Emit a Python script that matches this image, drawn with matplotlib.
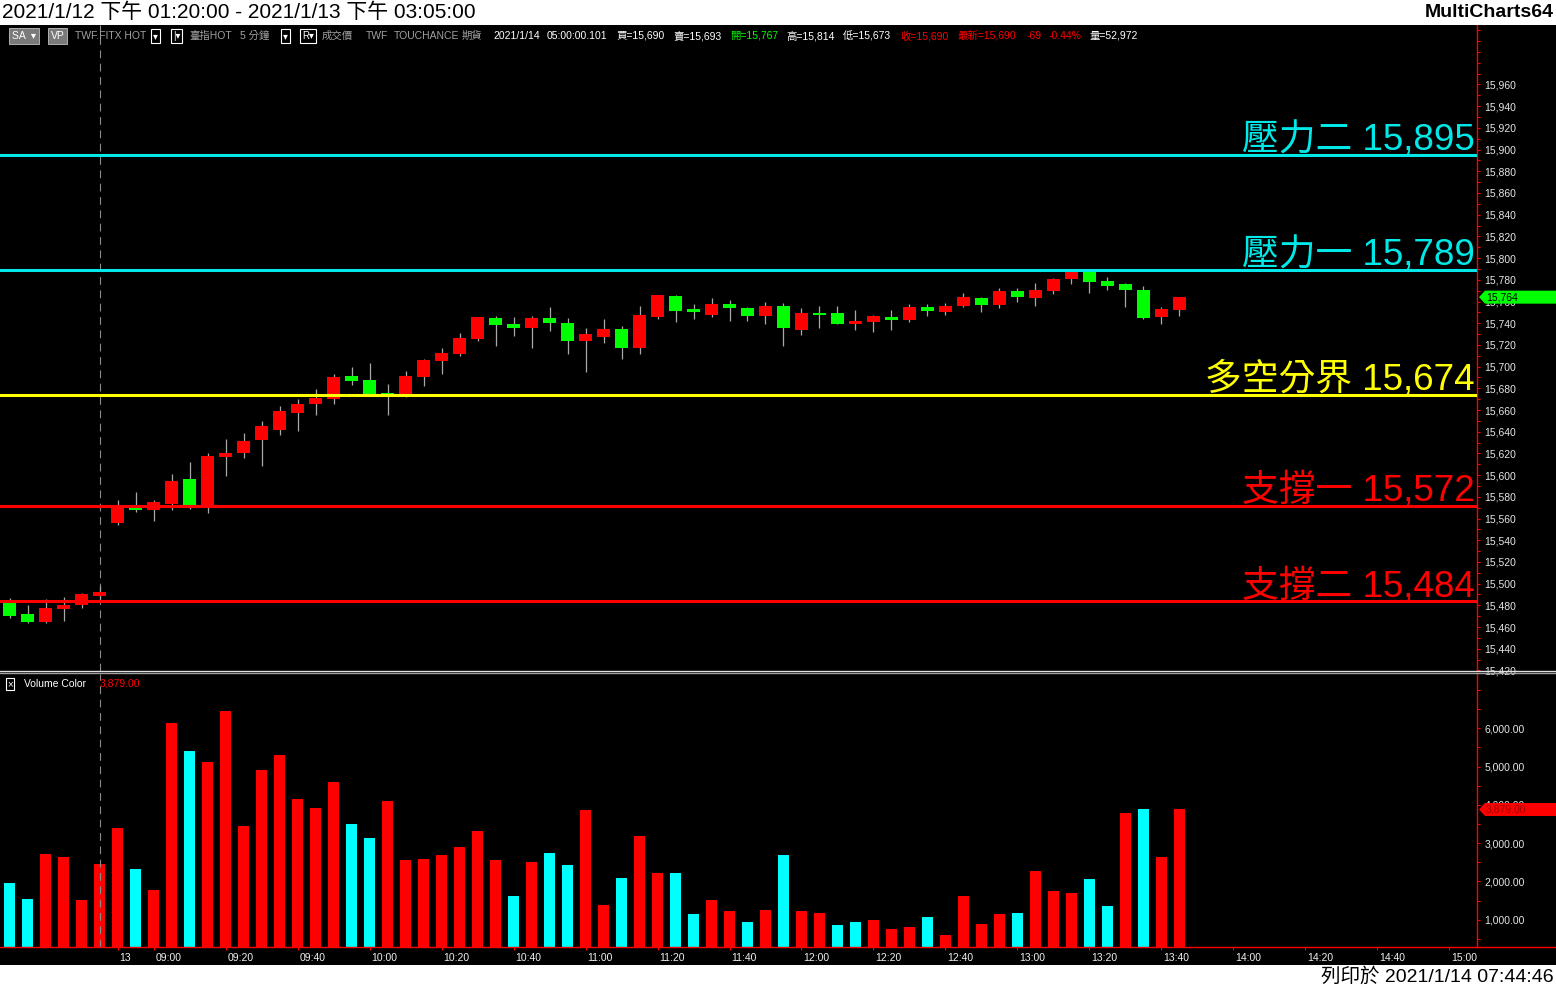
import numpy as np
import matplotlib
matplotlib.use('Agg')
import matplotlib.pyplot as plt
from matplotlib.patches import Rectangle, Polygon
from matplotlib.lines import Line2D
from matplotlib.transforms import blended_transform_factory, ScaledTranslation

plt.rcParams['font.family'] = ['Liberation Sans', 'Noto Sans CJK TC', 'DejaVu Sans']

# 5 minute bars, TWF.FITX, 2021/1/12 13:20 .. 2021/1/13 13:45
opens = [15482, 15472, 15465, 15477, 15480, 15489, 15556, 15570, 15568, 15573,
         15596, 15572, 15617, 15620, 15632, 15642, 15657, 15666, 15670, 15691,
         15688, 15676, 15674, 15690, 15705, 15712, 15725, 15745, 15739, 15736,
         15745, 15740, 15724, 15727, 15735, 15717, 15746, 15765, 15753, 15748,
         15758, 15754, 15747, 15756, 15734, 15749, 15749, 15739, 15741, 15746,
         15743, 15755, 15750, 15756, 15763, 15757, 15770, 15763, 15770, 15781,
         15787, 15779, 15776, 15771, 15746, 15752]
highs = [15487, 15480, 15486, 15488, 15491, 15498, 15577, 15584, 15577, 15601,
         15612, 15620, 15633, 15639, 15650, 15664, 15670, 15679, 15693, 15700,
         15703, 15684, 15696, 15707, 15717, 15731, 15746, 15747, 15746, 15747,
         15755, 15745, 15736, 15744, 15737, 15756, 15766, 15766, 15758, 15763,
         15761, 15755, 15760, 15759, 15754, 15756, 15756, 15752, 15748, 15752,
         15758, 15758, 15759, 15768, 15764, 15772, 15772, 15777, 15782, 15790,
         15790, 15783, 15777, 15774, 15755, 15764]
lows = [15468, 15464, 15464, 15466, 15478, 15485, 15554, 15566, 15558, 15568,
        15569, 15565, 15599, 15616, 15608, 15637, 15641, 15655, 15666, 15683,
        15673, 15655, 15672, 15682, 15693, 15710, 15724, 15719, 15728, 15717,
        15733, 15712, 15695, 15722, 15707, 15712, 15744, 15741, 15744, 15746,
        15742, 15742, 15739, 15719, 15729, 15736, 15739, 15734, 15732, 15734,
        15741, 15747, 15748, 15755, 15750, 15754, 15760, 15756, 15767, 15776,
        15768, 15771, 15755, 15744, 15739, 15747]
closes = [15470, 15465, 15478, 15480, 15490, 15492, 15572, 15568, 15575, 15595,
          15572, 15618, 15620, 15631, 15645, 15659, 15666, 15671, 15690, 15687,
          15674, 15674, 15691, 15706, 15713, 15726, 15746, 15738, 15736, 15745,
          15740, 15724, 15730, 15735, 15717, 15748, 15766, 15751, 15750, 15758,
          15754, 15747, 15756, 15736, 15749, 15748, 15739, 15742, 15747, 15743,
          15755, 15751, 15756, 15764, 15757, 15770, 15764, 15771, 15781, 15787,
          15778, 15774, 15771, 15745, 15753, 15764]
volumes = [1964, 1549, 2720, 2642, 1520, 2460, 3398, 2330, 1784, 6137,
           5409, 5120, 6450, 3450, 4910, 5300, 4155, 3920, 4600, 3503,
           3137, 4108, 2564, 2590, 2700, 2903, 3320, 2564, 1625, 2512,
           2746, 2434, 3868, 1390, 2094, 3190, 2225, 2225, 1156, 1520,
           1234, 947, 1260, 2700, 1234, 1183, 870, 947, 1000, 765,
           817, 1078, 609, 1625, 894, 1156, 1183, 2280, 1760, 1700,
           2070, 1365, 3790, 3895, 2642, 3879]
# Volume Color indicator: 1 = up volume (red), 0 = down volume (cyan)
vol_up = [0, 0, 1, 1, 1, 1, 1, 0, 1, 1, 0, 1, 1, 1, 1, 1, 1, 1, 1, 0,
          0, 1, 1, 1, 1, 1, 1, 1, 0, 1, 0, 0, 1, 1, 0, 1, 1, 0, 0, 1,
          1, 0, 1, 0, 1, 1, 0, 0, 1, 1, 1, 0, 1, 1, 1, 1, 0, 1, 1, 1,
          0, 0, 1, 0, 1, 1]

levels = [15895, 15789, 15674, 15572, 15484]
level_names = ['壓力二', '壓力一', '多空分界', '支撐一', '支撐二']
level_colors = ['#00E8E8', '#00E8E8', '#FFFF00', '#FF0000', '#FF0000']

prev_day_times = ['13:20', '13:25', '13:30', '13:35', '13:40', '13:45']
time_labels = ['09:00', '09:20', '09:40', '10:00', '10:20', '10:40', '11:00',
               '11:20', '11:40', '12:00', '12:20', '12:40', '13:00', '13:20',
               '13:40', '14:00', '14:20', '14:40', '15:00']
date_label = '13'

# bar slots for the day session (5 minute bars, labelled by close time)
day_times = ['%02d:%02d' % divmod(m, 60) for m in range(8 * 60 + 50, 15 * 60 + 5, 5)]
n_prev = len(prev_day_times)
tick_pos = [n_prev] + [n_prev + day_times.index(t) for t in time_labels]
tick_lab = [date_label] + time_labels

W, H = 1556, 988
fig = plt.figure(figsize=(W / 100, H / 100), dpi=100, facecolor='black')


def box(x0, y0, x1, y1):
    return [x0 / W, 1 - y1 / H, (x1 - x0) / W, (y1 - y0) / H]


def fx(x):
    return x / W


def fy(y):
    return 1 - y / H


x = np.arange(len(opens))
o = np.array(opens)
c = np.array(closes)
up = c >= o
xlim = (-0.53, 81.53)

# ---- price panel
ax = fig.add_axes(box(0, 25, 1477, 671), facecolor='black')
p_lim = (15419.5, 16014.8)
ax.set_xlim(*xlim)
ax.set_ylim(*p_lim)
ax.vlines(x, lows, highs, color='#A8A8A8', lw=0.9, zorder=2)
ax.bar(x, np.maximum(np.abs(c - o), 1.2), bottom=np.minimum(o, c), width=0.72,
       color=np.where(up, '#FF0000', '#00FF00'), lw=0, zorder=3)
for lv, nm, col in zip(levels, level_names, level_colors):
    ax.axhline(lv, color=col, lw=2.2, zorder=4)
    ax.annotate(f'{nm} {lv:,}', xy=(1, lv), xycoords=('axes fraction', 'data'),
                xytext=(-2, 5), textcoords='offset pixels', ha='right', va='baseline',
                fontsize=26.5, fontweight='light', color=col, zorder=5)
ax.axvline(n_prev - 1, color='#8C8C8C', lw=0.8, ls=(0, (7, 5)), zorder=1)

ax.yaxis.tick_right()
major = np.arange(15420, 15961, 20)
ax.set_yticks(major)
ax.set_yticklabels([f'{v:,}' for v in major])
ax.set_yticks(np.arange(15420, 16011, 10), minor=True)
ax.tick_params(axis='y', which='both', colors='#FF0000', labelcolor='#E6E6E6',
               length=2.5, width=0.8, pad=2.8, labelsize=7.5)
ax.tick_params(axis='x', bottom=False, labelbottom=False)
for s in ['left', 'top', 'bottom']:
    ax.spines[s].set_visible(False)
ax.spines['right'].set_color('#FF0000')
ax.spines['right'].set_linewidth(1)

# ---- volume panel
axv = fig.add_axes(box(0, 674, 1477, 947), facecolor='black')
v_lim = (290, 7415)
axv.bar(x, volumes, width=0.61, color=['#FF0000' if u else '#00FFFF' for u in vol_up], lw=0)
axv.set_xlim(*xlim)
axv.set_ylim(*v_lim)
axv.axvline(n_prev - 1, color='#8C8C8C', lw=0.8, ls=(0, (7, 5)), zorder=1)
axv.yaxis.tick_right()
vmaj = np.arange(1000, 6001, 1000)
axv.set_yticks(vmaj)
axv.set_yticklabels([f'{v:,.2f}' for v in vmaj])
axv.set_yticks(np.arange(500, 7001, 500), minor=True)
axv.tick_params(axis='y', which='both', colors='#FF0000', labelcolor='#E6E6E6',
                length=2.5, width=0.8, pad=2.8, labelsize=7.5)
axv.set_xticks(tick_pos)
axv.set_xticklabels(tick_lab)
axv.tick_params(axis='x', colors='#FF0000', labelcolor='#F0F0F0', length=2.5,
                width=0.8, pad=1.5, labelsize=7.5)
shift = ScaledTranslation(2 / 100, 0, fig.dpi_scale_trans)
for lbl in axv.get_xticklabels():
    lbl.set_ha('left')
    lbl.set_transform(lbl.get_transform() + shift)
for s in ['left', 'top']:
    axv.spines[s].set_visible(False)
for s in ['right', 'bottom']:
    axv.spines[s].set_color('#FF0000')
    axv.spines[s].set_linewidth(1)

fig.add_artist(Line2D([fx(1477), 1], [fy(947), fy(947)], color='#FF0000', lw=1))
fig.add_artist(Line2D([0, 1], [fy(671), fy(671)], color='#E0E0E0', lw=1))
fig.add_artist(Line2D([0, 1], [fy(673), fy(673)], color='#A0A0A0', lw=1))

# ---- last value markers on the axes
tr_p = blended_transform_factory(fig.transFigure, ax.transData)
hp = 6.5 * (p_lim[1] - p_lim[0]) / 646
last = closes[-1]
fig.add_artist(Polygon([(fx(1479), last), (fx(1485), last + hp), (1, last + hp),
                        (1, last - hp), (fx(1485), last - hp)],
                       transform=tr_p, fc='#00FF00', ec='none'))
fig.text(fx(1486), last, f'{last:,}', transform=tr_p, va='center', ha='left',
         fontsize=7.5, color='black')

tr_v = blended_transform_factory(fig.transFigure, axv.transData)
hv = 6.5 * (v_lim[1] - v_lim[0]) / 273
lastv = volumes[-1]
fig.add_artist(Polygon([(fx(1479), lastv), (fx(1485), lastv + hv), (1, lastv + hv),
                        (1, lastv - hv), (fx(1485), lastv - hv)],
                       transform=tr_v, fc='#FF0000', ec='none'))
fig.text(fx(1486), lastv, f'{lastv:,.2f}', transform=tr_v, va='center', ha='left',
         fontsize=7.5, color='#A00000')

# ---- white header / footer strips
fig.add_artist(Rectangle((0, fy(25)), 1, 25 / H, transform=fig.transFigure, fc='white', ec='none'))
fig.add_artist(Rectangle((0, 0), 1, 23 / H, transform=fig.transFigure, fc='white', ec='none'))
fig.text(fx(2), fy(12.5), '2021/1/12 下午 01:20:00 - 2021/1/13 下午 03:05:00',
         fontsize=15, color='black', va='center', ha='left')
fig.text(fx(1554), fy(12.5), 'MultiCharts64', fontsize=14, fontweight='bold',
         color='black', va='center', ha='right')
fig.text(fx(1554), fy(976.5), '列印於 2021/1/14 07:44:46', fontsize=14,
         color='black', va='center', ha='right')

# ---- info bar
iy = fy(36)
for bx, txt in [(12, 'SA  ▾'), (51, 'VP')]:
    fig.text(fx(bx), iy, txt, fontsize=7.5, color='white', va='center',
             bbox=dict(boxstyle='square,pad=0.25', fc='#7A7A7A', ec='#C0C0C0', lw=0.6))
for bx, txt in [(153, '▾'), (173, '|▾'), (283, '▾'), (302, 'R▾')]:
    fig.text(fx(bx), iy, txt, fontsize=7, color='white', va='center',
             bbox=dict(boxstyle='square,pad=0.2', fc='black', ec='white', lw=0.8))
info = [(75, 'TWF.FITX HOT', '#A0A0A0'), (189, '臺指HOT', '#A0A0A0'),
        (240, '5 分鐘', '#A0A0A0'), (322, '成交價', '#A0A0A0'),
        (366, 'TWF', '#A0A0A0'), (394, 'TOUCHANCE', '#A0A0A0'),
        (462, '期貨', '#A0A0A0'), (493, '2021/1/14', 'white'),
        (547, '05:00:00.101', 'white'), (616, '買=15,690', 'white'),
        (673, '賣=15,693', 'white'), (730, '開=15,767', '#00FF00'),
        (786, '高=15,814', 'white'), (843, '低=15,673', 'white'),
        (900, '收=15,690', '#FF0000'), (958, '最新=15,690', '#FF0000'),
        (1027, '-69', '#FF0000'), (1049, '-0.44%', '#FF0000'),
        (1090, '量=52,972', 'white')]
for bx, txt, col in info:
    fig.text(fx(bx), iy, txt, fontsize=7.5, color=col, va='center', ha='left')

# ---- volume indicator label
fig.text(fx(7), fy(684), '×', fontsize=7, color='white', va='center',
         bbox=dict(boxstyle='square,pad=0.15', fc='black', ec='white', lw=0.8))
fig.text(fx(24), fy(684), 'Volume Color', fontsize=7.5, color='white', va='center')
fig.text(fx(100), fy(684), f'{lastv:,.2f}', fontsize=7.5, color='#FF0000', va='center')

fig.savefig('out.png', dpi=100, facecolor='black')
